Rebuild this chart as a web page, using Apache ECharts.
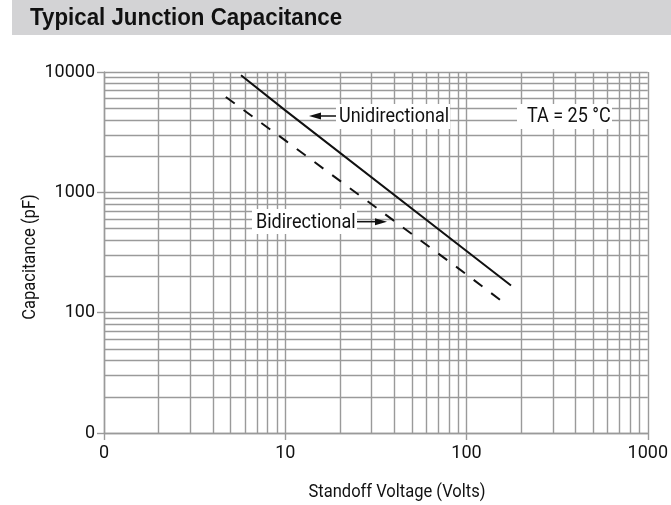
<!DOCTYPE html>
<html>
<head>
<meta charset="utf-8">
<script src="https://cdn.jsdelivr.net/npm/echarts@6/dist/echarts.min.js"></script>
<style>html,body{margin:0;padding:0;background:#fff}#c{width:671px;height:505px}</style>
</head>
<body>
<div id="c"></div>
<script>
// ---- data ----
const xTickLabels = {1: '0', 10: '10', 100: '100', 1000: '1000'};
const yTickLabels = {10: '0', 100: '100', 1000: '1000', 10000: '10000'};
const uniVolts = [5.7, 10, 100, 176];
const uniCap = [9400, 4800, 325, 168];
const biVolts = [4.7, 10, 100, 164];
const biCap = [6200, 2700, 208, 118];
const xMinor = [2,3,4,5,6,7,8,9,20,30,40,50,60,70,80,90,200,300,400,500,600,700,800,900];
const yMinor = [20,30,40,50,60,70,80,90,200,300,400,500,600,700,800,900,2000,3000,4000,5000,6000,7000,8000,9000];

const FONT = "Roboto,'Liberation Sans',sans-serif";
const GRID = '#9a9a9a';

const chart = echarts.init(document.getElementById('c'), null, {renderer: 'canvas'});
const minorLines = [];
xMinor.forEach(v => minorLines.push({xAxis: v}));
yMinor.forEach(v => minorLines.push({yAxis: v}));

chart.setOption({
  animation: false,
  backgroundColor: '#fff',
  grid: {left: 104, right: 20, top: 72, bottom: 72},
  xAxis: {
    type: 'log', logBase: 10, min: 1, max: 1000,
    axisLine: {show: true, lineStyle: {color: GRID, width: 1.4}},
    axisTick: {show: true, length: 7, lineStyle: {color: GRID, width: 1.4}},
    splitLine: {show: true, lineStyle: {color: GRID, width: 1.4}},
    axisLabel: {color: '#111', fontSize: 18, fontFamily: FONT, margin: 11,
      formatter: v => xTickLabels[Math.round(v)] || ''}
  },
  yAxis: {
    type: 'log', logBase: 10, min: 10, max: 10000,
    axisLine: {show: true, lineStyle: {color: GRID, width: 1.4}},
    axisTick: {show: true, length: 7, lineStyle: {color: GRID, width: 1.4}},
    splitLine: {show: true, lineStyle: {color: GRID, width: 1.4}},
    axisLabel: {color: '#111', fontSize: 18, fontFamily: FONT, margin: 9,
      formatter: v => yTickLabels[Math.round(v)] || ''}
  },
  series: [
    {
      type: 'line', z: 1, data: [], silent: true,
      markLine: {silent: true, symbol: ['none','none'], label: {show: false},
        lineStyle: {color: GRID, width: 1.4, type: 'solid'}, emphasis: {disabled: true},
        data: minorLines, animation: false}
    },
    {
      name: 'Unidirectional', type: 'line', z: 5, showSymbol: false, symbol: 'none',
      lineStyle: {color: '#111', width: 2},
      data: uniVolts.map((v, i) => [v, uniCap[i]])
    },
    {
      name: 'Bidirectional', type: 'line', z: 5, showSymbol: false, symbol: 'none',
      lineStyle: {color: '#111', width: 2, type: [11, 11]},
      data: biVolts.map((v, i) => [v, biCap[i]])
    }
  ],
  graphic: [
    {type: 'rect', shape: {x: 12, y: 0, width: 659, height: 35}, style: {fill: '#d3d3d5'}, z: 10},
    {type: 'text', x: 30, y: 18, scaleX: 0.93, z: 11, style: {text: 'Typical Junction Capacitance', fill: '#111',
      font: "bold 24px 'Liberation Sans', Arial, sans-serif", verticalAlign: 'middle'}},
    // Unidirectional label
    {type: 'rect', shape: {x: 336, y: 104, width: 114, height: 25}, style: {fill: '#fff'}, z: 20},
    {type: 'text', x: 339, y: 117, scaleX: 0.9, z: 21, style: {text: 'Unidirectional', fill: '#111',
      font: '20px ' + FONT, verticalAlign: 'middle'}},
    {type: 'line', shape: {x1: 318, y1: 116, x2: 336, y2: 116}, style: {stroke: '#111', lineWidth: 1.5}, z: 21},
    {type: 'polygon', shape: {points: [[309, 116], [321, 112.5], [321, 119.5]]}, style: {fill: '#111'}, z: 21},
    // TA label
    {type: 'rect', shape: {x: 517, y: 104, width: 95, height: 25}, style: {fill: '#fff'}, z: 20},
    {type: 'text', x: 527, y: 117, scaleX: 0.9, z: 21, style: {text: 'TA = 25 °C', fill: '#111',
      font: '20px ' + FONT, verticalAlign: 'middle'}},
    // Bidirectional label
    {type: 'rect', shape: {x: 252, y: 209, width: 105, height: 25}, style: {fill: '#fff'}, z: 20},
    {type: 'text', x: 256, y: 222.5, scaleX: 0.9, z: 21, style: {text: 'Bidirectional', fill: '#111',
      font: '20px ' + FONT, verticalAlign: 'middle'}},
    {type: 'line', shape: {x1: 357, y1: 221.7, x2: 376, y2: 221.7}, style: {stroke: '#111', lineWidth: 1.5}, z: 21},
    {type: 'polygon', shape: {points: [[387, 221.7], [375, 218.2], [375, 225.2]]}, style: {fill: '#111'}, z: 21},
    // axis titles
    {type: 'text', x: 30, y: 257, rotation: Math.PI / 2, scaleX: 0.87, z: 21, style: {text: 'Capacitance (pF)', fill: '#111',
      font: '19px ' + FONT, align: 'center', verticalAlign: 'middle'}},
    {type: 'text', x: 397, y: 492, scaleX: 0.87, z: 21, style: {text: 'Standoff Voltage (Volts)', fill: '#111',
      font: '19px ' + FONT, align: 'center', verticalAlign: 'middle'}}
  ]
});
</script>
</body>
</html>
